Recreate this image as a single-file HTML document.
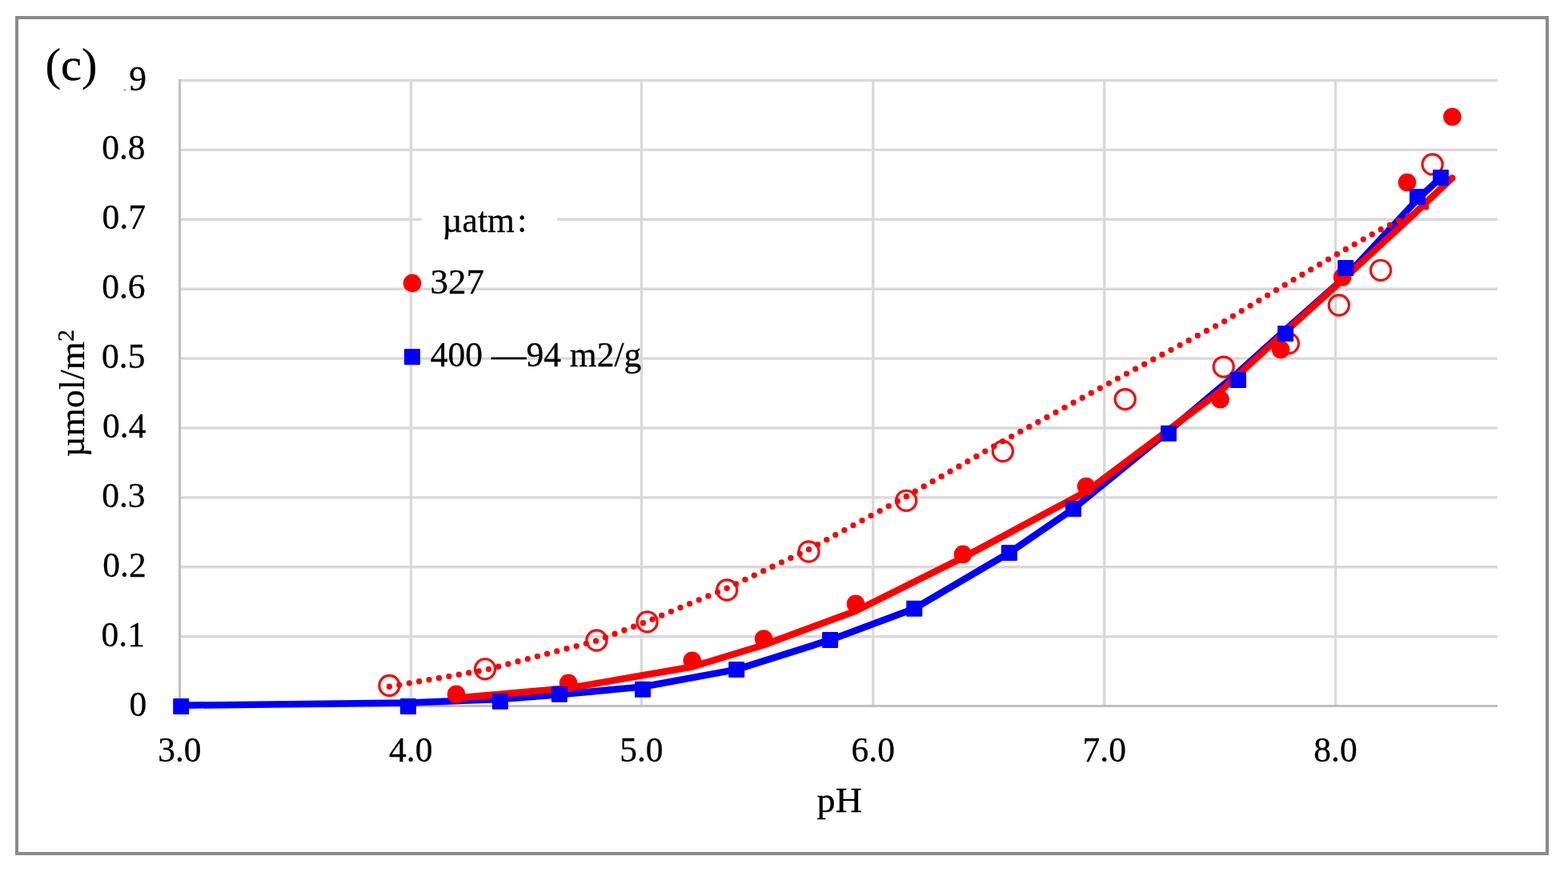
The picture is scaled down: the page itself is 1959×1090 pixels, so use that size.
<!DOCTYPE html>
<html lang="en">
<head>
<meta charset="utf-8">
<title>(c) µmol/m2 vs pH</title>
<style>
html, body { margin: 0; padding: 0; background: #ffffff; }
body { width: 1959px; height: 1090px; overflow: hidden; }
svg { display: block; }
text { font-family: "Liberation Serif", serif; fill: #000; stroke: #000; stroke-width: 0.3px; }
.tick { font-size: 45.0px; }
.grid line { stroke: #d9d9d9; stroke-width: 3.4; }
</style>
</head>
<body>
<svg width="1959" height="1090" viewBox="0 0 1959 1090">
<rect x="0" y="0" width="1959" height="1090" fill="#ffffff"/>
<!-- chart frame -->
<rect x="21" y="22" width="1912" height="1045" fill="#ffffff" stroke="#8a8a8a" stroke-width="4"/>

<g class="grid">
<line x1="224.5" y1="795.7" x2="1870.9" y2="795.7"/>
<line x1="224.5" y1="708.8" x2="1870.9" y2="708.8"/>
<line x1="224.5" y1="621.9" x2="1870.9" y2="621.9"/>
<line x1="224.5" y1="535.0" x2="1870.9" y2="535.0"/>
<line x1="224.5" y1="448.1" x2="1870.9" y2="448.1"/>
<line x1="224.5" y1="361.2" x2="1870.9" y2="361.2"/>
<line x1="224.5" y1="274.3" x2="1870.9" y2="274.3"/>
<line x1="224.5" y1="187.4" x2="1870.9" y2="187.4"/>
<line x1="224.5" y1="100.5" x2="1870.9" y2="100.5"/>
<line x1="513.4" y1="99.0" x2="513.4" y2="882.6"/>
<line x1="801.5" y1="99.0" x2="801.5" y2="882.6"/>
<line x1="1090.8" y1="99.0" x2="1090.8" y2="882.6"/>
<line x1="1379.8" y1="99.0" x2="1379.8" y2="882.6"/>
<line x1="1668.6" y1="99.0" x2="1668.6" y2="882.6"/>
</g>
<line x1="224.5" y1="99.0" x2="224.5" y2="884.1" stroke="#bfbfbf" stroke-width="3"/>
<line x1="223.0" y1="882.6" x2="1870.9" y2="882.6" stroke="#bfbfbf" stroke-width="3"/>
<g class="tick" text-anchor="end">
<text transform="translate(183.25 894.50) scale(0.967 1)" font-size="45.0" text-anchor="end">0</text>
<text transform="translate(181.00 807.60) scale(0.967 1)" font-size="45.0" text-anchor="end">0.1</text>
<text transform="translate(182.70 720.70) scale(0.967 1)" font-size="45.0" text-anchor="end">0.2</text>
<text transform="translate(181.60 633.80) scale(0.967 1)" font-size="45.0" text-anchor="end">0.3</text>
<text transform="translate(182.45 546.90) scale(0.967 1)" font-size="45.0" text-anchor="end">0.4</text>
<text transform="translate(181.40 460.00) scale(0.967 1)" font-size="45.0" text-anchor="end">0.5</text>
<text transform="translate(181.60 373.10) scale(0.967 1)" font-size="45.0" text-anchor="end">0.6</text>
<text transform="translate(182.00 286.20) scale(0.967 1)" font-size="45.0" text-anchor="end">0.7</text>
<text transform="translate(181.60 199.30) scale(0.967 1)" font-size="45.0" text-anchor="end">0.8</text>
<text transform="translate(183.10 113.10) scale(0.967 1)" font-size="45.0" text-anchor="end">0.9</text>
</g>
<g class="tick" text-anchor="middle">
<text transform="translate(224.40 952.20) scale(0.967 1)" font-size="45.0" text-anchor="middle">3.0</text>
<text transform="translate(513.30 952.20) scale(0.967 1)" font-size="45.0" text-anchor="middle">4.0</text>
<text transform="translate(801.40 952.20) scale(0.967 1)" font-size="45.0" text-anchor="middle">5.0</text>
<text transform="translate(1090.70 952.20) scale(0.967 1)" font-size="45.0" text-anchor="middle">6.0</text>
<text transform="translate(1379.70 952.20) scale(0.967 1)" font-size="45.0" text-anchor="middle">7.0</text>
<text transform="translate(1668.50 952.20) scale(0.967 1)" font-size="45.0" text-anchor="middle">8.0</text>
</g>
<text transform="translate(1020.60 1014.50) scale(1.03 1)" font-size="45.0" text-anchor="start">pH</text>
<text transform="translate(105.3 491.6) rotate(-90) scale(1.005 1)" font-size="45.0" text-anchor="middle">µmol/m<tspan font-size="30" dy="-13.5">2</tspan></text>
<rect x="30" y="30" width="129" height="82.4" fill="#ffffff"/>
<rect x="30" y="100" width="119" height="15" fill="#ffffff"/>
<text transform="translate(56.45 100.10) scale(1.02 1)" font-size="57.5" text-anchor="start">(c)</text>
<rect x="527" y="250" width="169" height="50" fill="#ffffff"/>
<text transform="translate(552.55 289.80) scale(0.967 1)" font-size="45.0" text-anchor="start">µatm<tspan dx="3.6">:</tspan></text>
<polyline points="226.2,881.7 510.0,878.6 624.9,873.9 698.8,868.2 803.0,858.5 920.2,836.9 1037.1,799.9 1142.3,760.7 1260.9,691.0 1341.0,636.0 1460.0,538.9 1547.0,465.4 1606.1,412.2 1681.2,345.8 1771.0,249.2 1800.0,222.0" fill="none" stroke="#0000ff" stroke-width="8.5" stroke-linejoin="round" stroke-linecap="round"/>
<polyline points="570.0,872.6 710.1,860.3 864.7,833.5 954.1,806.2 1069.0,763.7 1203.0,697.0 1357.0,614.6 1524.5,489.0 1600.1,419.8 1677.1,350.0 1758.0,275.6 1814.3,222.4" fill="none" stroke="#ff0000" stroke-width="8.5" stroke-linejoin="round" stroke-linecap="round"/>
<polyline points="486.4,858.2 606.0,837.5 745.4,800.9 808.6,776.8 908.2,735.2 1010.5,686.7 1132.2,620.6 1252.8,551.5 1405.7,468.0 1528.9,402.0 1609.8,353.3 1672.8,316.3 1725.0,286.8 1789.6,255.0" fill="none" stroke="#ff0000" stroke-width="7.3" stroke-linejoin="round" stroke-linecap="round" stroke-dasharray="0 12.6"/>
<g fill="#ff0000">
<circle cx="570" cy="867.7" r="11.3"/>
<circle cx="710.1" cy="853.7" r="11.3"/>
<circle cx="864.7" cy="825.7" r="11.3"/>
<circle cx="954.1" cy="798.6" r="11.3"/>
<circle cx="1069" cy="754.7" r="11.3"/>
<circle cx="1203" cy="692.9" r="11.3"/>
<circle cx="1357" cy="608" r="11.3"/>
<circle cx="1524.5" cy="499.3" r="11.3"/>
<circle cx="1600.1" cy="437" r="11.3"/>
<circle cx="1677.1" cy="346.4" r="11.3"/>
<circle cx="1758" cy="228" r="11.3"/>
<circle cx="1814.4" cy="146" r="11.3"/>
</g>
<g fill="none" stroke="#ff0000" stroke-width="3.2">
<circle cx="486.4" cy="857" r="12.55"/>
<circle cx="606" cy="836.3" r="12.55"/>
<circle cx="745.4" cy="800.5" r="12.55"/>
<circle cx="808.6" cy="777.3" r="12.55"/>
<circle cx="908.2" cy="737.5" r="12.55"/>
<circle cx="1010.5" cy="689.5" r="12.55"/>
<circle cx="1132.2" cy="625.8" r="12.55"/>
<circle cx="1252.8" cy="564" r="12.55"/>
<circle cx="1405.7" cy="499.1" r="12.55"/>
<circle cx="1528.7" cy="458.6" r="12.55"/>
<circle cx="1609.9" cy="429.2" r="12.55"/>
<circle cx="1672.8" cy="381.5" r="12.55"/>
<circle cx="1725" cy="337.8" r="12.55"/>
<circle cx="1789.6" cy="205.4" r="12.55"/>
</g>
<g fill="#0000ff">
<rect x="216.2" y="873.0" width="20" height="20" rx="1"/>
<rect x="500.0" y="873.0" width="20" height="20" rx="1"/>
<rect x="614.9" y="866.8" width="20" height="20" rx="1"/>
<rect x="688.8" y="857.7" width="20" height="20" rx="1"/>
<rect x="793.0" y="851.7" width="20" height="20" rx="1"/>
<rect x="910.2" y="826.9" width="20" height="20" rx="1"/>
<rect x="1027.1" y="789.9" width="20" height="20" rx="1"/>
<rect x="1132.3" y="750.7" width="20" height="20" rx="1"/>
<rect x="1250.9" y="681.0" width="20" height="20" rx="1"/>
<rect x="1331.0" y="626.0" width="20" height="20" rx="1"/>
<rect x="1450.0" y="531.8" width="20" height="20" rx="1"/>
<rect x="1537.0" y="465.0" width="20" height="20" rx="1"/>
<rect x="1596.1" y="407.0" width="20" height="20" rx="1"/>
<rect x="1671.2" y="325.0" width="20" height="20" rx="1"/>
<rect x="1761.0" y="236.0" width="20" height="20" rx="1"/>
<rect x="1790.0" y="212.0" width="20" height="20" rx="1"/>
</g>
<circle cx="515" cy="353.9" r="11.3" fill="#ff0000"/>
<text transform="translate(537.60 367.30) scale(1.0 1)" font-size="45.0" text-anchor="start">327</text>
<rect x="505" y="436" width="20" height="20" rx="1" fill="#0000ff"/>
<text transform="translate(537.80 458.20) scale(0.967 1)" font-size="45.0" text-anchor="start">400 —94 m2/g</text>
</svg>
</body>
</html>
